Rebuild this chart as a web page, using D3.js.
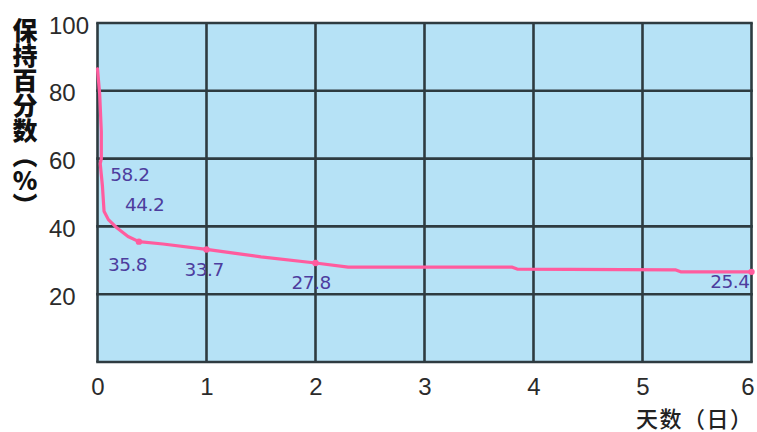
<!DOCTYPE html>
<html>
<head>
<meta charset="utf-8">
<script src="https://cdn.jsdelivr.net/npm/d3@7"></script>
<style>
  html, body { margin: 0; padding: 0; background: #fff; }
  svg { display: block; }
</style>
</head>
<body>
<svg id="chart" width="757" height="432"></svg>
<script>
// ---- data ----
const curveDays  = [0, 0.02, 0.035, 0.035, 0.025, 0.045, 0.06, 0.1, 0.18, 0.28, 0.38, 0.6, 1.0, 1.5, 2.0, 2.3, 3.8, 3.85, 5.3, 5.35, 6.0];
const curveValue = [86.5, 79, 68, 60, 58.5, 52, 44.5, 42, 39.5, 37, 35.5, 34.8, 33.2, 31, 29.2, 28, 28, 27.4, 27.2, 26.6, 26.6];
const labelDays  = [0.025, 0.06, 0.38, 1.0, 2.0, 6.0];
const labelCurve = [58.5, 44.5, 35.5, 33.2, 29.2, 26.6];
const labelText  = ["58.2", "44.2", "35.8", "33.7", "27.8", "25.4"];
const xTicks = [0, 1, 2, 3, 4, 5, 6];
const yTicks = [0, 20, 40, 60, 80, 100];
const yTickLabels = ["", "20", "40", "60", "80", "100"];
const yTitle = "保持百分数（%）";
const xTitle = "天数（日）";

// ---- layout / style (not data) ----
const labelDx = [10, 21, -31, -22, -24, -2];
const labelDy = [17, 0, 29, 27, 26, 16];
const labelAnchor = ["start", "start", "start", "start", "start", "end"];
const dotIdx = [2, 3, 4, 5];

const svg = d3.select("#chart");
const x = d3.scaleLinear().domain([0, 6]).range([97.5, 751.5]);
const y = d3.scaleLinear().domain([0, 100]).range([362, 23]);

// background
svg.append("rect")
  .attr("x", x(0)).attr("y", y(100))
  .attr("width", x(6) - x(0)).attr("height", y(0) - y(100))
  .attr("fill", "#b6e2f6");

// grid
const gridColor = "#2e3b40";
svg.append("g").selectAll("line").data(xTicks).join("line")
  .attr("x1", d => x(d)).attr("x2", d => x(d))
  .attr("y1", y(100)).attr("y2", y(0))
  .attr("stroke", gridColor).attr("stroke-width", 2.6);
svg.append("g").selectAll("line").data(yTicks).join("line")
  .attr("x1", x(0) - 1.3).attr("x2", x(6) + 1.3)
  .attr("y1", d => y(d)).attr("y2", d => y(d))
  .attr("stroke", gridColor).attr("stroke-width", 2.6);

// axis labels via d3 axes (domain and ticks hidden)
const xAxis = svg.append("g")
  .attr("transform", `translate(0,${y(0)})`)
  .call(d3.axisBottom(x).tickValues(xTicks).tickFormat(d3.format("d")).tickSize(0).tickPadding(0));
xAxis.select(".domain").remove();
xAxis.selectAll("text")
  .attr("y", 33)
  .attr("dy", 0)
  .attr("dx", d => d === 6 ? -4 : 0)
  .attr("font-family", "Liberation Sans, Arial, sans-serif")
  .attr("font-size", 24)
  .attr("fill", "#2b2b2b");

const yAxis = svg.append("g")
  .call(d3.axisLeft(y).tickValues(yTicks).tickFormat((d, i) => yTickLabels[i]).tickSize(0).tickPadding(0));
yAxis.select(".domain").remove();
yAxis.selectAll("text")
  .attr("x", 49)
  .attr("dy", "0.42em")
  .attr("text-anchor", "start")
  .attr("font-family", "Liberation Sans, Arial, sans-serif")
  .attr("font-size", 24)
  .attr("fill", "#2b2b2b");

// curve
const pts = curveDays.map((d, i) => [d, curveValue[i]]);
const line = d3.line().x(d => x(d[0])).y(d => y(d[1])).curve(d3.curveLinear);
svg.append("path")
  .datum(pts)
  .attr("d", line)
  .attr("fill", "none")
  .attr("stroke", "#ff5c9e")
  .attr("stroke-width", 3.2)
  .attr("stroke-linejoin", "round")
  .attr("stroke-linecap", "round");

// markers
svg.append("g").selectAll("circle").data(dotIdx).join("circle")
  .attr("cx", i => x(labelDays[i]))
  .attr("cy", i => y(labelCurve[i]))
  .attr("r", 3.2)
  .attr("fill", "#ff5c9e");

// value labels
svg.append("g").selectAll("text").data(labelText).join("text")
  .attr("x", (d, i) => x(labelDays[i]) + labelDx[i])
  .attr("y", (d, i) => y(labelCurve[i]) + labelDy[i])
  .attr("text-anchor", (d, i) => labelAnchor[i])
  .attr("font-family", "DejaVu Sans, sans-serif")
  .attr("font-size", 18.5)
  .attr("letter-spacing", -0.5)
  .attr("fill", "#4d3d9e")
  .text(d => d);

// y title (vertical)
svg.append("text")
  .attr("x", 25)
  .attr("y", 18)
  .attr("writing-mode", "vertical-rl")
  .style("text-orientation", "upright")
  .attr("font-family", "Noto Sans CJK SC, sans-serif")
  .attr("font-weight", 900)
  .attr("font-size", 25)
  .attr("fill", "#111")
  .text(yTitle);

// x title
svg.append("text")
  .attr("x", 636)
  .attr("y", 427)
  .attr("font-family", "Noto Sans CJK SC, sans-serif")
  .attr("font-weight", 500)
  .attr("font-size", 22)
  .attr("letter-spacing", 1.5)
  .attr("fill", "#222")
  .text(xTitle);
</script>
</body>
</html>
